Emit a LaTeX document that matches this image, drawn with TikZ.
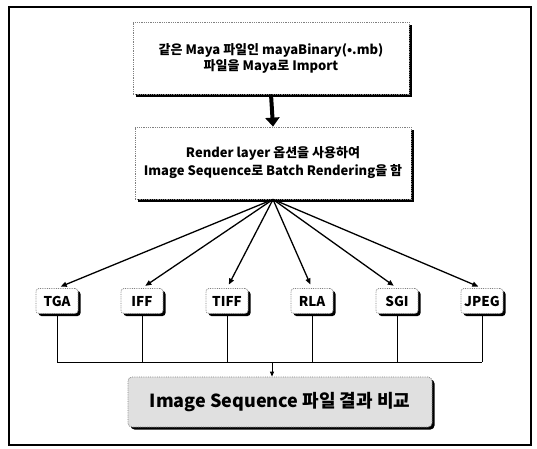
\documentclass[tikz,border=0pt]{standalone}
\usepackage{fontspec}
\newfontfamily\kr{Noto Sans CJK KR}
\usetikzlibrary{arrows.meta,shadows}

\begin{document}
\begin{tikzpicture}[x=1pt,y=-1pt]
\tikzstyle{every node}+=[font=\kr\bfseries, inner sep=0pt]
\tikzstyle{mainbox}=[draw=black!50, densely dotted, line width=0.8pt, fill=white, align=center,
  drop shadow={shadow xshift=2.5pt, shadow yshift=-2.5pt, fill=black, opacity=1}]
\tikzstyle{fmtbox}=[mainbox, rounded corners=3pt, minimum width=42pt, minimum height=25pt,
  font=\kr\bfseries\fontsize{13.5}{15}\selectfont]
\tikzstyle{fan}=[line width=1.3pt, -{Triangle[length=6pt,width=5pt]}]
\tikzstyle{bus}=[line width=1pt]
\useasboundingbox (0,0) rectangle (537,448);
\draw [line width=1.3pt] (9,7) rectangle (531,445);
\node [mainbox, minimum width=276pt, minimum height=72pt,
  font=\kr\bfseries\fontsize{13}{16}\selectfont] (imp) at (271,58)
  {같은 Maya 파일인 mayaBinary(•.mb)\\ 파일을 Maya로 Import};
\node [mainbox, minimum width=276pt, minimum height=72pt,
  font=\kr\bfseries\fontsize{13}{18}\selectfont] (render) at (273,163)
  {Render layer 옵션을 사용하여\\ Image Sequence로 Batch Rendering을 함};
\draw [line width=4pt, -{Triangle[length=9pt,width=14pt]}] (imp.south) -- (render.north);
\coordinate (bus) at (272,362);
\foreach \n/\t [count=\i] in {tga/TGA,iff/IFF,tiff/TIFF,rla/RLA,sgi/SGI,jpeg/JPEG} {
  \node [fmtbox] (\n) at ({57+85*(\i-1)},301) {\t};
  \draw [fan, shorten >=4pt] (render.south) -- (\n.north);
  \draw [bus] (\n.south) -- (\n.south |- bus);
}
\draw [bus] (tga.south |- bus) -- (jpeg.south |- bus);
\node [mainbox, rounded corners=4pt, fill=black!12, minimum width=304pt, minimum height=50pt,
  font=\kr\bfseries\fontsize{18}{20}\selectfont] (cmp) at (280,402) {Image Sequence 파일 결과 비교};
\draw [line width=1pt, -{Triangle[length=5pt,width=4pt]}] (bus) -- (bus |- cmp.north);
\end{tikzpicture}
\end{document}
